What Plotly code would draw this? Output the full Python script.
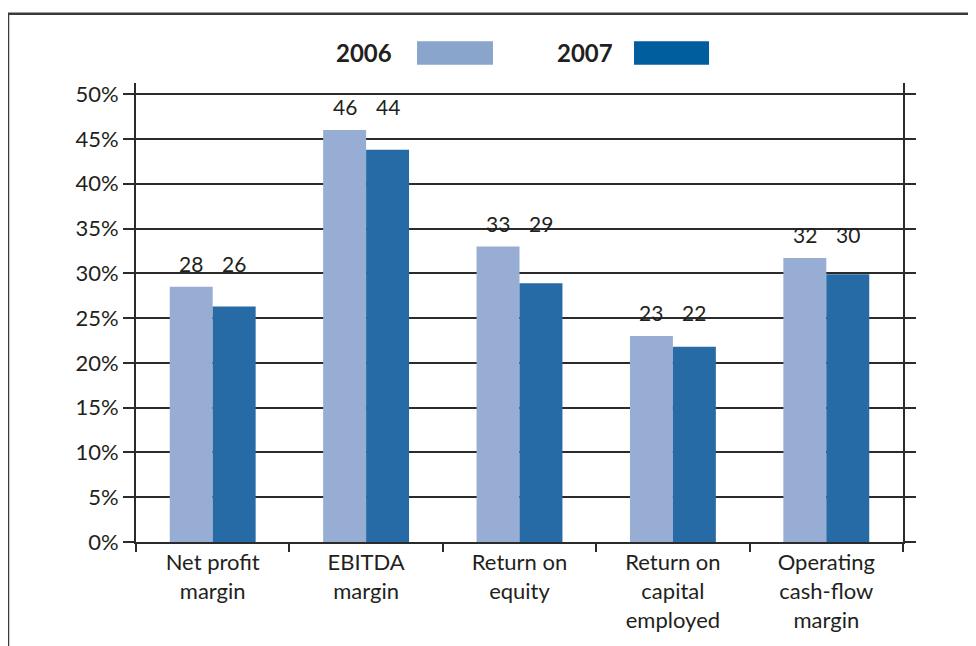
import plotly.graph_objects as go

categories = ["Net profit<br>margin", "EBITDA<br>margin", "Return on<br>equity",
              "Return on<br>capital<br>employed", "Operating<br>cash-flow<br>margin"]
values_2006 = [28.5, 46.0, 33.0, 23.0, 31.7]
values_2007 = [26.3, 43.8, 28.9, 21.8, 29.9]
labels_2006 = ["28", "46", "33", "23", "32"]
labels_2007 = ["26", "44", "29", "22", "30"]
ytick_vals = [0, 5, 10, 15, 20, 25, 30, 35, 40, 45, 50]
ytick_text = ["0%", "5%", "10%", "15%", "20%", "25%", "30%", "35%", "40%", "45%", "50%"]

FONT = "Lato"
TXT = "#231F20"
LINE = "#2b2b2b"
C06 = "#98ADD3"
C07 = "#266BA5"

fig = go.Figure()
fig.add_trace(go.Bar(x=categories, y=values_2006, name="2006", marker_color=C06,
                     marker_line_width=0))
fig.add_trace(go.Bar(x=categories, y=values_2007, name="2007", marker_color=C07,
                     marker_line_width=0))

annotations = []
for cat, a, b, la, lb in zip(categories, values_2006, values_2007, labels_2006, labels_2007):
    ly = max(a, b) + 2.6
    annotations.append(dict(x=cat, y=ly, xref="x", yref="y", text=la, showarrow=False,
                            xshift=-21.5, yanchor="middle",
                            font=dict(family=FONT, size=21, color=TXT)))
    annotations.append(dict(x=cat, y=ly, xref="x", yref="y", text=lb, showarrow=False,
                            xshift=21.5, yanchor="middle",
                            font=dict(family=FONT, size=21, color=TXT)))

# legend texts
annotations.append(dict(x=0.3364, y=1.0665, xref="paper", yref="paper", text="<b>2006</b>",
                        showarrow=False, xanchor="right", yanchor="middle",
                        font=dict(family=FONT, size=24, color=TXT)))
annotations.append(dict(x=0.6245, y=1.0665, xref="paper", yref="paper", text="<b>2007</b>",
                        showarrow=False, xanchor="right", yanchor="middle",
                        font=dict(family=FONT, size=24, color=TXT)))

shapes = [
    dict(type="rect", xref="paper", yref="paper", x0=0.3664, x1=0.4654, y0=1.04, y1=1.091,
         fillcolor="#8AA5CC", line_width=0),
    dict(type="rect", xref="paper", yref="paper", x0=0.6493, x1=0.7471, y0=1.04, y1=1.091,
         fillcolor="#005E9E", line_width=0),
    dict(type="path", xref="paper", yref="paper",
         path="M -0.1669,-0.5 L -0.1669,1.1508 L 1.2,1.1508",
         line=dict(color="#3a3a3a", width=2.5)),
]

fig.update_layout(
    width=968, height=638,
    margin=dict(l=128, r=73, t=75, b=104, pad=0),
    paper_bgcolor="white", plot_bgcolor="white",
    barmode="group", bargap=0.44, bargroupgap=0,
    showlegend=False,
    font=dict(family=FONT, size=22, color=TXT),
    annotations=annotations, shapes=shapes,
)
fig.update_xaxes(
    type="category", showline=True, linecolor=LINE, linewidth=2,
    ticks="outside", tickson="boundaries", ticklen=8, tickwidth=2, tickcolor=LINE,
    showgrid=False, mirror=False,
    tickfont=dict(family=FONT, size=22, color=TXT),
)
fig.update_yaxes(
    range=[0, 51.25], tickvals=ytick_vals, ticktext=ytick_text,
    showline=True, linecolor=LINE, linewidth=2, mirror="ticks",
    ticks="outside", ticklen=11, tickwidth=2, tickcolor=LINE,
    showgrid=True, gridcolor=LINE, gridwidth=2, zeroline=False,
    tickfont=dict(family=FONT, size=22, color=TXT),
)

fig.write_html("out.html")
